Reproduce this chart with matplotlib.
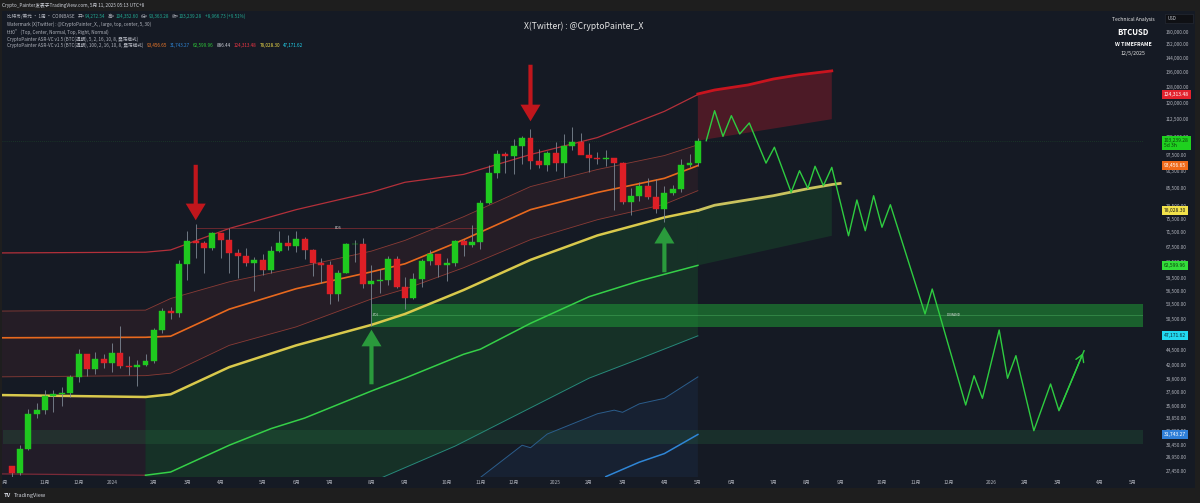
"""Weekly BTCUSD chart with banded channels, zones and a projected path."""
import matplotlib
matplotlib.use("Agg")
import matplotlib.pyplot as plt
import matplotlib.dates as mdates
from matplotlib.patches import Rectangle
from matplotlib.ticker import FixedLocator, NullLocator
from matplotlib.transforms import blended_transform_factory
import numpy as np
import pandas as pd

plt.rcParams["font.family"] = ["Noto Sans CJK SC", "DejaVu Sans"]

# ── Data ──────────────────────────────────────────────────────────────────────
first_week = "2023-10-09"
opens = [27930, 27160, 29990, 34520, 35040, 37060, 37380, 37450, 39970, 43770,
         41360, 42990, 42280, 43950, 41730, 41580, 42030, 42580, 48300, 52130,
         51730, 62900, 68950, 68400, 67220, 71280, 69360, 65660, 64940, 63110,
         63890, 61480, 66270, 68500, 67750, 69650, 66600, 63200, 62700, 55850,
         60800, 68150, 68250, 58150, 58700, 59000, 64200, 57300, 54850, 59150,
         63600, 65600, 62800, 63200, 69000, 68000, 68800, 80400, 90600, 98000,
         97300, 101200, 104500, 95200, 93700, 98300, 94500, 101300, 102700, 97700,
         96500, 96100, 96300, 94300, 80700, 82600, 86100, 82400, 78400, 83700,
         85100, 93700, 94270]
highs = [27990, 30380, 35200, 35980, 37970, 37950, 38420, 40250, 44700, 43800,
         44290, 43800, 45900, 49000, 43570, 42850, 43880, 48600, 52800, 52950,
         64000, 72000, 73800, 68900, 71700, 71300, 72800, 66800, 67250, 64750,
         65500, 67700, 71950, 70600, 71980, 70200, 66900, 64550, 63800, 61400,
         68400, 69400, 70000, 62750, 61800, 65000, 64900, 59800, 60650, 64150,
         66500, 65600, 64450, 69400, 69500, 73600, 81500, 93500, 99600, 98700,
         104000, 105300, 108300, 99900, 98900, 102700, 106000, 109300, 106400, 102500,
         98800, 99500, 96500, 95000, 85300, 87500, 88800, 88500, 86100, 86500,
         95800, 97900, 104350]
lows = [26540, 26980, 29880, 33930, 34530, 34790, 35640, 36850, 39200, 40200,
        40550, 41500, 40750, 41500, 40280, 38500, 41850, 42250, 47700, 50520,
        50900, 59000, 64600, 60800, 66500, 64500, 60660, 59600, 62400, 56500,
        60200, 60700, 66000, 66600, 66100, 64100, 60000, 58400, 53500, 54300,
        60600, 63400, 57100, 49050, 56100, 57850, 57200, 52550, 54600, 57500,
        62700, 59800, 58900, 62500, 65100, 67500, 66800, 80200, 88800, 90800,
        90500, 94200, 92200, 92600, 91300, 91300, 89300, 99500, 97800, 91200,
        94000, 93300, 78100, 80000, 76600, 81200, 81600, 77100, 74500, 83000,
        83900, 92900, 93360]
closes = opens[1:] + [103240]

band_dates = ["2023-09-25", "2024-01-29", "2024-02-19", "2024-04-08", "2024-06-03",
              "2024-08-05", "2024-09-02", "2024-10-21", "2024-12-16", "2025-02-10",
              "2025-04-07", "2025-05-05"]
outer_upper = [65800, 66000, 66600, 72600, 78300, 84000, 87400, 90200, 97700, 104600, 116200, 124313]
inner_upper = [52100, 52300, 54800, 58600, 62000, 66300, 69200, 76100, 85900, 92000, 97300, 101600]
mid_band = [46800, 46900, 47100, 52500, 57000, 61000, 63000, 69400, 78300, 83900, 88800, 93457]
inner_lower = [40000, 40200, 40600, 45400, 48900, 54700, 56900, 62000, 69400, 75200, 80000, 84500]
base_band = [37200, 36900, 37300, 41600, 45400, 49300, 51500, 56700, 64000, 70600, 75900, 78028]

old_floor_dates = ["2023-09-25", "2024-01-29"]
old_floor = [27100, 26950]
floor_dates = ["2024-01-29", "2024-02-19", "2024-04-08", "2024-05-13", "2024-06-10",
               "2024-08-05", "2024-09-02", "2024-10-21", "2024-11-04", "2024-12-16",
               "2025-02-03", "2025-03-17", "2025-05-05"]
floor_band = [26950, 27300, 30400, 32500, 33900, 37800, 39800, 43800, 44700, 49600,
              55200, 58800, 62600]

teal_dates = ["2024-08-12", "2024-10-14", "2025-02-03", "2025-03-17", "2025-05-05"]
teal_band = [26600, 30300, 39800, 43000, 47172]

blue_dates = ["2024-11-04", "2024-12-09", "2024-12-16", "2024-12-30", "2025-02-10",
              "2025-02-24", "2025-03-03", "2025-03-17", "2025-04-07", "2025-05-05"]
blue_band = [26700, 30400, 30100, 31800, 34500, 35000, 34700, 35900, 36700, 40000]

deep_dates = ["2025-02-17", "2025-03-17", "2025-04-07", "2025-05-05"]
deep_band = [26800, 28400, 29400, 31743]

proj_upper_dates = ["2025-05-05", "2025-05-19", "2025-06-16", "2025-07-07", "2025-07-28", "2025-08-25"]
proj_upper = [124600, 126600, 129200, 132300, 134500, 136700]
proj_upper_floor = [103300, 112600]
proj_base_dates = ["2025-05-05", "2025-05-19", "2025-07-07", "2025-08-04", "2025-08-25", "2025-09-01"]
proj_base = [78030, 79700, 82800, 85100, 86600, 87000]
proj_base_floor = [62600, 70500]

path_dates = ["2025-05-12", "2025-05-19", "2025-05-26", "2025-06-02", "2025-06-09", "2025-06-17",
              "2025-07-01", "2025-07-08", "2025-07-22", "2025-07-29", "2025-08-05", "2025-08-11",
              "2025-08-18", "2025-08-25", "2025-09-08", "2025-09-15", "2025-09-22", "2025-09-29",
              "2025-10-06", "2025-10-13", "2025-11-11", "2025-11-17", "2025-12-15", "2025-12-22",
              "2025-12-29", "2026-01-12", "2026-01-19", "2026-01-26", "2026-02-10", "2026-02-24",
              "2026-03-03", "2026-03-24"]
path_prices = [103280, 116500, 105100, 114200, 106100, 110900, 94400, 100600, 83950, 91550,
               85300, 93200, 86200, 92800, 70500, 81400, 71950, 82800, 72950, 79870,
               51500, 56930, 35730, 40190, 36700, 48290, 39780, 43560, 32230, 38880,
               34920, 44430]

demand_start = "2024-08-05"
demand_zone = (48900, 53500)
demand_mid = 51300
low_zone_start = "2023-10-02"
low_zone = (30500, 32300)
bos_dates = ["2024-03-11", "2024-11-04"]
bos_level = 72800

# (date, base price, tip price, colour)
arrows = [("2024-03-11", 94800, 74200, "#c0161c"),
          ("2024-12-16", 141700, 110400, "#c0161c"),
          ("2024-08-05", 38400, 48900, "#2a9a3c"),
          ("2025-04-07", 60200, 73900, "#2a9a3c")]

price_ticks = [160000, 152000, 144000, 136000, 128000, 120000, 112500, 105000, 97500,
               91500, 85500, 79500, 75500, 71500, 67500, 63500, 59500, 56500, 53500,
               50500, 47500, 44500, 42000, 39600, 37600, 35600, 33850, 32250, 30450,
               28950, 27450]

# (price, label, box colour, text colour)
price_tags = [(124313.48, "124,313.48", "#e3222d", "#ffffff"),
              (93456.65, "93,456.65", "#f06a1a", "#ffffff"),
              (78028.30, "78,028.30", "#f2e24a", "#1a1a1a"),
              (62599.96, "62,599.96", "#33dd3a", "#0b3d0b"),
              (47171.62, "47,171.62", "#22d8f0", "#0b2a35"),
              (31743.27, "31,743.27", "#2f7fd8", "#ffffff")]
last_tag = (103239.28, "103,239.28\n5d 3h", "#1fd11f", "#0b3d0b")

date_ticks = ["2023-10-02", "2023-11-06", "2023-12-04", "2024-01-01", "2024-02-05", "2024-03-04",
              "2024-04-01", "2024-05-06", "2024-06-03", "2024-07-01", "2024-08-05", "2024-09-02",
              "2024-10-07", "2024-11-04", "2024-12-02", "2025-01-06", "2025-02-03", "2025-03-03",
              "2025-04-07", "2025-05-05", "2025-06-02", "2025-07-07", "2025-08-04", "2025-09-01",
              "2025-10-06", "2025-11-03", "2025-12-01", "2026-01-05", "2026-02-02", "2026-03-02",
              "2026-04-06", "2026-05-04"]
date_labels = ["10月", "11月", "12月", "2024", "2月", "3月", "4月", "5月", "6月", "7月", "8月",
               "9月", "10月", "11月", "12月", "2025", "2月", "3月", "4月", "5月", "6月", "7月",
               "8月", "9月", "10月", "11月", "12月", "2026", "2月", "3月", "4月", "5月"]

# ── Style ─────────────────────────────────────────────────────────────────────
BG = "#151a24"
FRAME = "#1e1e1e"
TXT = "#b2b5be"
UP = "#1fc91f"
DOWN = "#dd1f26"
W, H = 1200, 503


def d(dates):
    return mdates.date2num(pd.to_datetime(dates))


def fx(px):
    return px / W


def fy(py):
    return 1 - py / H


def poly(ax, xt, yt, xb, yb, **kw):
    ax.fill(np.r_[xt, np.asarray(xb)[::-1]], np.r_[yt, np.asarray(yb)[::-1]], **kw)


fig = plt.figure(figsize=(W / 100, H / 100), dpi=100, facecolor=BG)
ax = fig.add_axes([0, fy(477), fx(1143), fy(11) - fy(477)])
ax.set_facecolor(BG)
ax.set_yscale("log")
y_lo, y_hi = 26760, 173870
ax.set_ylim(y_lo, y_hi)
x0 = mdates.date2num(pd.Timestamp("2024-01-01"))
ax.set_xlim(x0 - 93.7, x0 + 862.3)
x_right = x0 + 862.3

bx = d(band_dates)

# ── Fills ─────────────────────────────────────────────────────────────────────
poly(ax, bx, inner_upper, bx, inner_lower, color="#7a2e36", alpha=0.16, lw=0, zorder=1)
poly(ax, bx[:2], base_band[:2], d(old_floor_dates), old_floor, color="#6a2a40", alpha=0.16, lw=0, zorder=1)
poly(ax, bx[1:], base_band[1:], np.r_[bx[1], d(teal_dates)], [teal_band[0]] + teal_band,
     color="#1f9a3a", alpha=0.18, lw=0, zorder=1)
bl = d(blue_dates)
poly(ax, bl, blue_band, [bl[0], bl[-1]], [y_lo * 0.97] * 2, color="#2a5a9a", alpha=0.12, lw=0, zorder=1)

pu = d(proj_upper_dates)
poly(ax, pu, proj_upper, [pu[0], pu[-1]], proj_upper_floor, color="#b01c2a", alpha=0.36, lw=0, zorder=1)
pb = d(proj_base_dates)
poly(ax, pb[:-1], proj_base[:-1], [pb[0], pb[-2]], proj_base_floor, color="#1f9a3a", alpha=0.18, lw=0, zorder=1)

# horizontal zones
ds = d([demand_start])[0]
ax.fill_between([ds, x_right], demand_zone[0], demand_zone[1], color="#1e8c34", alpha=0.62, lw=0, zorder=1.2)
ax.plot([ds, x_right], [demand_mid] * 2, color="#4fb565", lw=0.5, alpha=0.6, zorder=1.3)
ls = d([low_zone_start])[0]
ax.fill_between([ls, x_right], low_zone[0], low_zone[1], color="#2a7a45", alpha=0.22, lw=0, zorder=1.2)

# ── Band lines ────────────────────────────────────────────────────────────────
ax.plot(bx, outer_upper, color="#b3303a", lw=0.9, zorder=2)
ax.plot(bx, inner_upper, color="#8a3b35", lw=0.6, zorder=2)
ax.plot(bx, inner_lower, color="#8a3b35", lw=0.6, zorder=2)
ax.plot(bx, mid_band, color="#e8691e", lw=1.2, zorder=2)
ax.plot(bx, base_band, color="#d9c94c", lw=1.8, zorder=2.1)
ax.plot(d(old_floor_dates), old_floor, color="#7a2a38", lw=0.9, zorder=2)
ax.plot(d(floor_dates), floor_band, color="#35d048", lw=1.1, zorder=2)
ax.plot(d(teal_dates), teal_band, color="#27897a", lw=0.7, zorder=2)
ax.plot(bl, blue_band, color="#2b5d8c", lw=0.7, zorder=2)
ax.plot(d(deep_dates), deep_band, color="#2f86d6", lw=1.1, zorder=2)
ax.plot(pu, proj_upper, color="#c8141e", lw=2.0, zorder=2.2)
ax.plot(pb, proj_base, color="#c9c25e", lw=2.0, zorder=2.2)

# BOS line and last-price line
ax.plot(d(bos_dates), [bos_level] * 2, color="#8a2d33", lw=0.5, zorder=2)
ax.axhline(closes[-1], color="#2fa83a", lw=0.5, ls=(0, (1, 2)), alpha=0.35, zorder=1.5)

# ── Candles ───────────────────────────────────────────────────────────────────
cx = mdates.date2num(pd.date_range(first_week, periods=len(opens), freq="W-MON"))
o, h, l, c = map(np.asarray, (opens, highs, lows, closes))
cols = np.where(c >= o, UP, DOWN)
ax.vlines(cx, l, h, colors="#7d8793", lw=0.6, zorder=3)
ax.bar(cx, np.abs(c - o), bottom=np.minimum(o, c), width=5, color=cols,
       edgecolor=cols, linewidth=0.3, zorder=3.1)

# ── Arrows ────────────────────────────────────────────────────────────────────
for day, base, tip, col in arrows:
    xd = d([day])[0]
    ax.annotate("", xy=(xd, tip), xytext=(xd, base),
                arrowprops=dict(arrowstyle="simple,head_length=1.0,head_width=1.2,tail_width=0.25",
                                mutation_scale=12, fc=col, ec="none"), zorder=4)

# ── Projected path ────────────────────────────────────────────────────────────
px = d(path_dates)
ax.plot(px, path_prices, color="#2ecc40", lw=1.0, zorder=4)
ax.annotate("", xy=(px[-1], path_prices[-1]), xytext=(px[-2], path_prices[-2]),
            arrowprops=dict(arrowstyle="->,head_length=0.5,head_width=0.3", color="#2ecc40",
                            lw=1.0, mutation_scale=10), zorder=4)

# small zone labels
ax.text(d(["2024-07-08"])[0], bos_level, "BOS", color="#e0e0e0", fontsize=2.4, ha="center", va="center", zorder=5)
ax.text(ds + 1, demand_mid, "POI", color="#e0e0e0", fontsize=2.4, ha="left", va="center", zorder=5)
ax.text(d(["2025-12-05"])[0], demand_mid, "DEMAND", color="#e0e0e0", fontsize=2.4, ha="center", va="center", zorder=5)

# ── Axes ──────────────────────────────────────────────────────────────────────
for s in ax.spines.values():
    s.set_visible(False)
ax.yaxis.set_major_locator(FixedLocator(price_ticks))
ax.yaxis.set_minor_locator(NullLocator())
ax.set_yticklabels([f"{v:,.2f}" for v in price_ticks])
ax.yaxis.tick_right()
ax.tick_params(axis="y", which="both", length=0, pad=16.5, labelsize=3.4, colors=TXT)
ax.xaxis.set_major_locator(FixedLocator(d(date_ticks)))
ax.set_xticklabels(date_labels)
ax.tick_params(axis="x", length=0, pad=2.5, labelsize=3.5, colors=TXT)

tag_tf = blended_transform_factory(fig.transFigure, ax.transData)
for price, label, fc, tc in price_tags:
    ax.text(fx(1164), price, label, transform=tag_tf, ha="left", va="center", fontsize=3.6,
            color=tc, clip_on=False, zorder=6,
            bbox=dict(boxstyle="square,pad=0.4", fc=fc, ec="none"))
# last price tag hangs below its line, with the bar countdown underneath
ax.annotate(last_tag[1], xy=(fx(1164), last_tag[0]), xycoords=tag_tf, xytext=(0, 2.2),
            textcoords="offset points", ha="left", va="top", fontsize=3.6, color=last_tag[3],
            linespacing=1.1, annotation_clip=False, zorder=6,
            bbox=dict(boxstyle="square,pad=0.4", fc=last_tag[2], ec="none"))

# ── Frame ─────────────────────────────────────────────────────────────────────
for rect in [(0, 0, W, 11), (0, 488, W, 15), (0, 0, 2, H), (1195, 0, 5, H)]:
    fig.add_artist(Rectangle((fx(rect[0]), fy(rect[1] + rect[3])), rect[2] / W, rect[3] / H,
                             transform=fig.transFigure, fc=FRAME, ec="none", zorder=10))
fig.add_artist(Rectangle((fx(1165), fy(22.7)), 28 / W, 8.7 / H, transform=fig.transFigure,
                         fc="#0f1014", ec="#2a2e39", lw=0.4, zorder=11))
fig.text(fx(1168), fy(18.4), "USD", color="#d1d4dc", fontsize=3.2, va="center", zorder=12)

# ── Texts ─────────────────────────────────────────────────────────────────────
fig.text(fx(2), fy(5.5), "Crypto_Painter发表于TradingView.com, 5月 11, 2025 05:13 UTC+8",
         color="#d1d4dc", fontsize=3.4, va="center", zorder=12)
fig.text(fx(4), fy(495.5), "TV", color="#d1d4dc", fontsize=4.2, weight="bold", va="center", zorder=12)
fig.text(fx(14), fy(495.5), "TradingView", color="#d1d4dc", fontsize=4.0, va="center", zorder=12)

fig.text(fx(584), fy(26), "X(Twitter) : @CryptoPainter_X", color="#e6e6e6", fontsize=6.2,
         ha="center", va="center")
fig.text(fx(1133), fy(20), "Technical Analysis", color="#e6e6e6", fontsize=3.6, ha="center", va="center")
fig.text(fx(1133), fy(32.3), "BTCUSD", color="#ffffff", fontsize=5.6, weight="bold", ha="center", va="center")
fig.text(fx(1133), fy(44), "W TIMEFRAME", color="#ffffff", fontsize=3.8, weight="bold", ha="center", va="center")
fig.text(fx(1133), fy(53.5), "12/5/2025", color="#e6e6e6", fontsize=3.8, ha="center", va="center")

# legend rows: pieces are laid out one after another, (text, colour, gap before in px)
LEG = 3.3
VAL = "#22ab94"
legend_rows = [
    (16, [("比特币/美元 · 1周 · COINBASE", TXT, 0), ("开=", TXT, 3), ("94,272.54", VAL, 0),
          ("高=", TXT, 3), ("104,352.60", VAL, 0), ("低=", TXT, 3), ("93,363.28", VAL, 0),
          ("收=", TXT, 3), ("103,239.28", VAL, 0), ("+8,966.73 (+9.51%)", VAL, 3)]),
    (24.3, [("Watermark (X(Twitter) : @CryptoPainter_X, , large, top, center, 5, 30)", TXT, 0)]),
    (32, [("ttt0” (Top, Center, Normal, Top, Right, Normal)", TXT, 0)]),
    (39.3, [("CryptoPainter ASR-VC v1.5 (BTC(週期), 5, 2, 16, 10, 8, 震荡模式)", TXT, 0)]),
    (45.5, [("CryptoPainter ASR-VC v1.5 (BTC(週期), 100, 2, 16, 10, 8, 震荡模式)", TXT, 0),
            ("93,456.65", "#f57c2a", 3), ("31,743.27", "#2f86d6", 3), ("62,599.96", "#2fd13a", 3),
            ("886.44", "#d1d4dc", 3), ("124,313.48", "#f23645", 3), ("78,028.30", "#f5e04a", 3),
            ("47,171.62", "#22d3ee", 3)]),
]
renderer = fig.canvas.get_renderer()
for row_y, parts in legend_rows:
    x_px = 7
    for s, col, gap in parts:
        x_px += gap
        t = fig.text(fx(x_px), fy(row_y), s, color=col, fontsize=LEG, va="center", zorder=12)
        x_px = t.get_window_extent(renderer).x1

fig.savefig("out.png", dpi=100, facecolor=BG)
